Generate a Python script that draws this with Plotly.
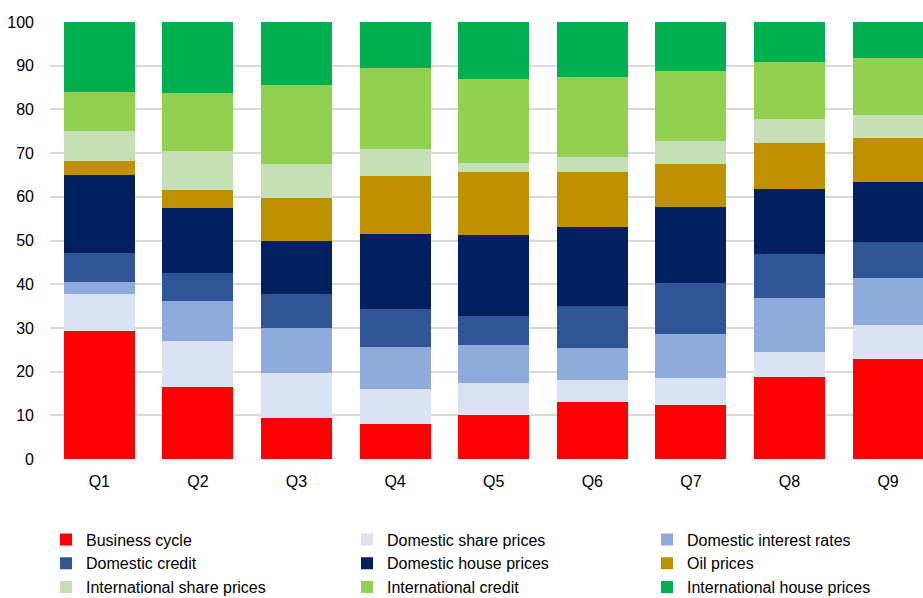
import plotly.graph_objects as go

categories = ["Q1", "Q2", "Q3", "Q4", "Q5", "Q6", "Q7", "Q8", "Q9"]

business_cycle = [29.4, 16.5, 9.4, 8.0, 10.1, 13.1, 12.4, 18.7, 22.8]
domestic_share_prices = [8.3, 10.4, 10.3, 8.0, 7.2, 4.9, 6.1, 5.9, 7.8]
domestic_interest_rates = [2.8, 9.2, 10.3, 9.6, 8.8, 7.3, 10.2, 12.3, 10.9]
domestic_credit = [6.6, 6.5, 7.8, 8.8, 6.7, 9.7, 11.6, 10.0, 8.2]
domestic_house_prices = [17.8, 14.8, 12.2, 17.1, 18.5, 18.0, 17.3, 15.0, 13.6]
oil_prices = [3.3, 4.2, 9.8, 13.3, 14.3, 12.7, 10.0, 10.5, 10.1]
international_share_prices = [6.8, 8.9, 7.6, 6.2, 2.2, 3.5, 5.2, 5.5, 5.3]
international_credit = [8.9, 13.3, 18.2, 18.5, 19.2, 18.3, 16.1, 12.9, 13.1]
international_house_prices = [16.1, 16.2, 14.4, 10.5, 13.0, 12.5, 11.1, 9.2, 8.2]

series_names = [
    "Business cycle", "Domestic share prices", "Domestic interest rates",
    "Domestic credit", "Domestic house prices", "Oil prices",
    "International share prices", "International credit", "International house prices",
]
series_values = [
    business_cycle, domestic_share_prices, domestic_interest_rates,
    domestic_credit, domestic_house_prices, oil_prices,
    international_share_prices, international_credit, international_house_prices,
]
series_colors = [
    "#FF0000", "#DAE3F3", "#8FAADC", "#2F5597", "#002060", "#BF9000",
    "#C5E0B4", "#92D050", "#00B050",
]
y_ticks = [0, 10, 20, 30, 40, 50, 60, 70, 80, 90, 100]

FONT = "Liberation Sans, Arial, sans-serif"
FS = 16
W, H = 923, 598
legend_ids = ["legend", "legend2", "legend3"]

fig = go.Figure()
for i, (name, vals, col) in enumerate(zip(series_names, series_values, series_colors)):
    fig.add_trace(go.Bar(
        x=categories, y=vals, name=name,
        marker=dict(color=col, line=dict(width=0)),
        legend=legend_ids[i % 3],
        legendgroup=name,
    ))

legend_common = dict(
    orientation="v",
    xref="container", yref="container",
    yanchor="top", xanchor="left",
    y=1 - 522.5 / H,
    font=dict(family=FONT, size=FS, color="#000000"),
    tracegroupgap=0.5,
    traceorder="normal",
    bgcolor="rgba(0,0,0,0)",
    borderwidth=0,
)
col_x = [46, 347, 647]

fig.update_layout(
    barmode="stack",
    bargap=0.28,
    width=W, height=H,
    margin=dict(l=50, r=0, t=22, b=H - 459, autoexpand=False),
    plot_bgcolor="white", paper_bgcolor="white",
    font=dict(family=FONT, size=FS, color="#000000"),
    xaxis=dict(
        range=[-0.5, -0.5 + (W - 50) / 98.6],
        showgrid=False, zeroline=False, showline=False, ticks="",
        tickfont=dict(family=FONT, size=FS, color="#000000"),
        ticklabelstandoff=11,
    ),
    yaxis=dict(
        range=[0, 100], tickvals=y_ticks,
        showgrid=True, gridcolor="#D9D9D9", gridwidth=1.5,
        zeroline=False, showline=False, ticks="",
        tickfont=dict(family=FONT, size=FS, color="#000000"),
        ticklabelstandoff=15,
    ),
    legend=dict(legend_common, x=col_x[0] / W),
    legend2=dict(legend_common, x=col_x[1] / W),
    legend3=dict(legend_common, x=col_x[2] / W),
    showlegend=True,
)

fig.write_html(
    "out.html",
    config={"displayModeBar": False},
    post_script="document.body.style.margin='0';document.body.style.overflow='hidden';",
)
